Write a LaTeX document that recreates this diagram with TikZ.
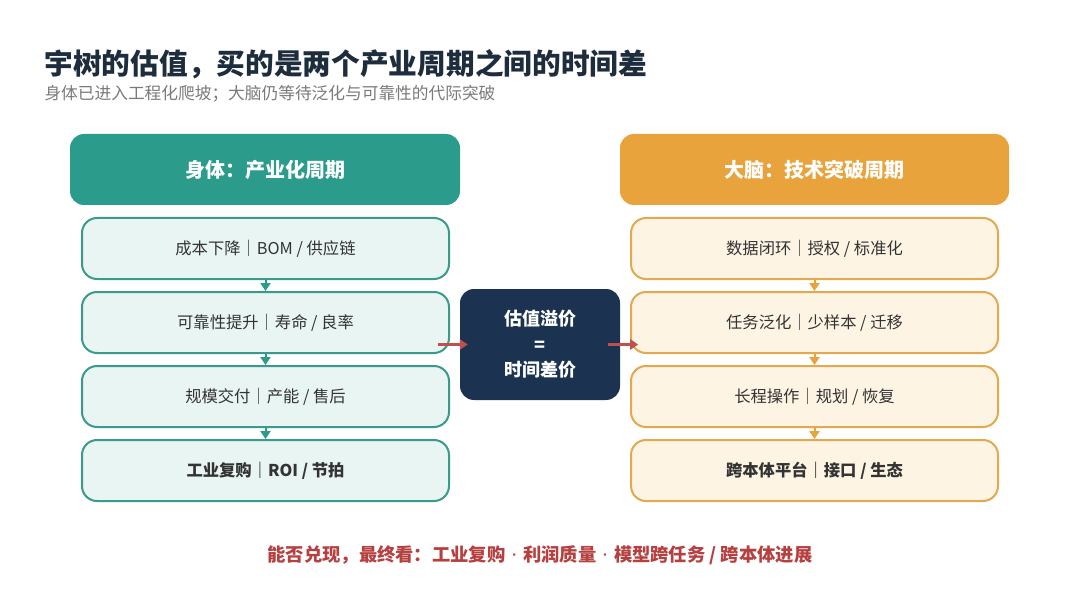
\documentclass[tikz,border=0pt]{standalone}
\usepackage{fontspec}
\setmainfont{Noto Sans CJK SC}
\newfontfamily\dotfont{Noto Sans}
\usetikzlibrary{arrows.meta,calc}
\definecolor{ink}{HTML}{1E2D3D}
\definecolor{subgray}{HTML}{7A7A7A}
\definecolor{bodyteal}{HTML}{2B9B8B}
\definecolor{bodyline}{HTML}{3A9A8C}
\definecolor{bodyfill}{HTML}{E8F5F2}
\definecolor{brainorange}{HTML}{E8A33D}
\definecolor{brainline}{HTML}{E3A94F}
\definecolor{brainfill}{HTML}{FDF4E4}
\definecolor{navy}{HTML}{1B3350}
\definecolor{linkred}{HTML}{C0504D}
\definecolor{notered}{HTML}{B5403F}
\definecolor{itemtext}{HTML}{333333}
\newcommand{\mdot}{{\dotfont\hspace{0.35em}·\hspace{0.35em}}}

\begin{document}
\begin{tikzpicture}[x=1pt,y=-1pt,
  head/.style={rounded corners=14pt,minimum width=390pt,minimum height=71pt,
    text=white,font=\fontsize{20}{24}\selectfont\bfseries},
  item/.style={draw,line width=2pt,rounded corners=15pt,minimum width=367pt,
    minimum height=61pt,text=itemtext,font=\fontsize{16.3}{19}\selectfont},
  flow/.style={line width=2pt,-{Triangle[length=8pt,width=10pt]}},
  link/.style={line width=2.5pt,linkred,-{Triangle[length=8pt,width=10pt]}}]
 \useasboundingbox[fill=white] (0,0) rectangle (1080,615);
 % title lines
 \node[anchor=west,text=ink,font=\fontsize{28.7}{32}\selectfont\bfseries] (title) at (41,64) {宇树的估值，买的是两个产业周期之间的时间差};
 \node[anchor=west,text=subgray,font=\fontsize{16.7}{20}\selectfont] (sub) at (41,94) {身体已进入工程化爬坡；大脑仍等待泛化与可靠性的代际突破};
 % body column
 \node[head,fill=bodyteal] (lh) at (265,169.5) {身体：产业化周期};
 \foreach \i/\txt [count=\y from 0] in {1/{成本下降｜BOM / 供应链},2/{可靠性提升｜寿命 / 良率},3/{规模交付｜产能 / 售后}}
  \node[item,draw=bodyline,fill=bodyfill] (l\i) at (265.5,248.5+74*\y) {\txt};
 \node[item,draw=bodyline,fill=bodyfill,font=\fontsize{16.3}{19}\selectfont\bfseries] (l4) at (265.5,470.5) {工业复购｜ROI / 节拍};
 % brain column
 \node[head,fill=brainorange,minimum width=389pt] (rh) at (814.5,169.5) {大脑：技术突破周期};
 \foreach \i/\txt [count=\y from 0] in {1/{数据闭环｜授权 / 标准化},2/{任务泛化｜少样本 / 迁移},3/{长程操作｜规划 / 恢复}}
  \node[item,draw=brainline,fill=brainfill] (r\i) at (814.5,248.5+74*\y) {\txt};
 \node[item,draw=brainline,fill=brainfill,font=\fontsize{16.3}{19}\selectfont\bfseries] (r4) at (814.5,470.5) {跨本体平台｜接口 / 生态};
 % arrows down
 \foreach \a/\b in {1/2,2/3,3/4}{
  \draw[flow,bodyteal] (l\a.south) -- (l\b.north);
  \draw[flow,brainorange] (r\a.south) -- (r\b.north);
 }
 % middle
 \node[fill=navy,rounded corners=14pt,minimum width=160pt,minimum height=111pt,
   text=white,align=center,font=\fontsize{18}{25.5}\selectfont\bfseries] (val) at (540,344.5) {估值溢价\\=\\时间差价};
 \draw[link] ([xshift=-22pt]val.west) -- ([xshift=8pt]val.west);
 \draw[link] ([xshift=-12pt]val.east) -- ([xshift=18pt]val.east);
 % bottom note
 \node[text=notered,font=\fontsize{18.3}{21}\selectfont\bfseries] (note) at (540,555) {能否兑现，最终看：工业复购\mdot 利润质量\mdot 模型跨任务 / 跨本体进展};
\end{tikzpicture}
\end{document}
